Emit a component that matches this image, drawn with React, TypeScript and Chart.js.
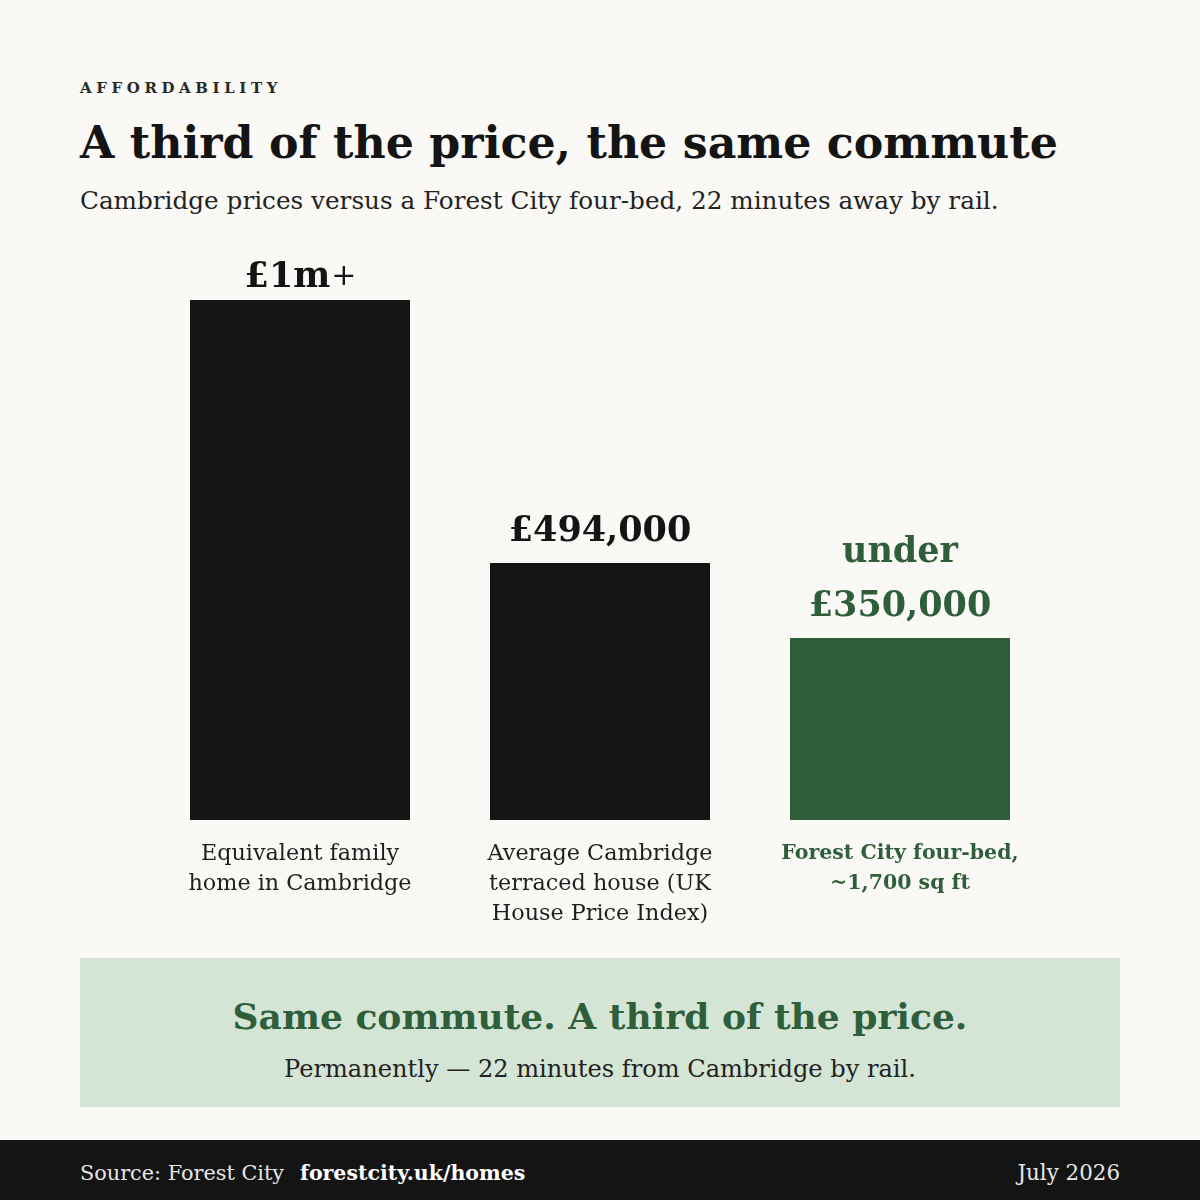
import React, { useEffect, useRef } from "react";
import { Chart, registerables } from "chart.js";

Chart.register(...registerables);

// ---- data ----
const categories: string[][] = [
  ["Equivalent family", "home in Cambridge"],
  ["Average Cambridge", "terraced house (UK", "House Price Index)"],
  ["Forest City four-bed,", "~1,700 sq ft"],
];
const prices: number[] = [1000000, 494000, 350000];
const valuePrefix: string[] = ["", "", "under"];
const valueMain: string[] = ["£1m", "£494,000", "£350,000"];
const valueSuffix: string[] = ["+", "", ""];
const yMax = 1000000;

// ---- styles ----
const SERIF = "'DejaVu Serif', serif";
const INK = "#141414";
const GREEN = "#2F5E3A";
const BG = "#FAF9F5";
const barColors = [INK, INK, GREEN];

const valueLabelPlugin = {
  id: "valueLabels",
  afterDatasetsDraw(chart: any) {
    const ctx = chart.ctx as CanvasRenderingContext2D;
    const meta = chart.getDatasetMeta(0);
    ctx.save();
    meta.data.forEach((bar: any, i: number) => {
      const color = barColors[i];
      const base = Math.max(bar.y - 22, chart.chartArea.top - 13);
      ctx.fillStyle = color;
      ctx.textBaseline = "alphabetic";
      const mainFont = `bold 35px ${SERIF}`;
      const sufFont = `normal 30px ${SERIF}`;
      ctx.font = mainFont;
      const mw = ctx.measureText(valueMain[i]).width;
      ctx.font = sufFont;
      const sw = valueSuffix[i] ? ctx.measureText(valueSuffix[i]).width : 0;
      const startX = bar.x - (mw + sw) / 2;
      ctx.textAlign = "left";
      ctx.font = mainFont;
      ctx.fillText(valueMain[i], startX, base);
      if (valueSuffix[i]) {
        ctx.font = sufFont;
        ctx.fillText(valueSuffix[i], startX + mw + 1, base - 2);
      }
      if (valuePrefix[i]) {
        ctx.font = mainFont;
        ctx.textAlign = "center";
        ctx.fillText(valuePrefix[i], bar.x, base - 54);
      }
    });
    ctx.restore();
  },
};

function BarChart() {
  const ref = useRef<HTMLCanvasElement | null>(null);
  useEffect(() => {
    if (!ref.current) return;
    const chart = new Chart(ref.current, {
      type: "bar",
      data: {
        labels: categories as any,
        datasets: [
          {
            data: prices,
            backgroundColor: barColors,
            borderWidth: 0,
            categoryPercentage: 1,
            barPercentage: 220 / 300,
          },
        ],
      },
      options: {
        responsive: false,
        animation: false,
        devicePixelRatio: 1,
        layout: { padding: { top: 70, left: 150, right: 150, bottom: 0 } },
        plugins: { legend: { display: false }, tooltip: { enabled: false } },
        scales: {
          x: {
            grid: { display: false, drawTicks: false },
            border: { display: false },
            ticks: {
              padding: 19,
              maxRotation: 0,
              autoSkip: false,
              color: (c: any) => (c.index === 2 ? GREEN : "#1f1f1f"),
              font: (c: any) =>
                c.index === 2
                  ? { family: SERIF, size: 20.5, weight: "bold", lineHeight: 30 / 20.5 }
                  : { family: SERIF, size: 22.3, weight: "normal", lineHeight: 30 / 22.3 },
            },
            afterFit: (s: any) => {
              s.height = 120;
            },
          },
          y: { display: false, min: 0, max: yMax },
        },
      },
      plugins: [valueLabelPlugin],
    } as any);
    return () => chart.destroy();
  }, []);
  return (
    <canvas
      ref={ref}
      width={1200}
      height={710}
      style={{ position: "absolute", left: 0, top: 230, width: 1200, height: 710 }}
    />
  );
}

export default function App() {
  const abs = (o: React.CSSProperties): React.CSSProperties => ({
    position: "absolute",
    whiteSpace: "nowrap",
    fontFamily: SERIF,
    ...o,
  });
  return (
    <div
      style={{
        position: "absolute",
        left: 0,
        top: 0,
        width: 1200,
        height: 1200,
        background: BG,
        overflow: "hidden",
      }}
    >
      <div
        style={abs({
          left: 80,
          top: 76,
          fontSize: 15,
          lineHeight: "24px",
          letterSpacing: 4.6,
          fontWeight: "bold",
          color: "#2a2a2a",
        })}
      >
        AFFORDABILITY
      </div>
      <div
        style={abs({
          left: 80,
          top: 112,
          fontSize: 44.3,
          lineHeight: "60px",
          fontWeight: "bold",
          color: INK,
        })}
      >
        A third of the price, the same commute
      </div>
      <div
        style={abs({ left: 80, top: 185, fontSize: 24.7, lineHeight: "32px", color: "#222" })}
      >
        Cambridge prices versus a Forest City four-bed, 22 minutes away by rail.
      </div>

      <BarChart />

      <div
        style={{
          position: "absolute",
          left: 80,
          top: 958,
          width: 1040,
          height: 149,
          background: "#D5E5D5",
        }}
      >
        <div
          style={abs({
            left: 0,
            width: 1040,
            textAlign: "center",
            top: 32,
            fontSize: 36,
            lineHeight: "52px",
            fontWeight: "bold",
            color: GREEN,
          })}
        >
          Same commute. A third of the price.
        </div>
        <div
          style={abs({
            left: 0,
            width: 1040,
            textAlign: "center",
            top: 95,
            fontSize: 24.1,
            lineHeight: "32px",
            color: "#222",
          })}
        >
          Permanently — 22 minutes from Cambridge by rail.
        </div>
      </div>

      <div
        style={{
          position: "absolute",
          left: 0,
          top: 1140,
          width: 1200,
          height: 60,
          background: INK,
        }}
      >
        <div style={abs({ left: 80, top: 18, fontSize: 20.8, lineHeight: "30px", color: "#e6e6e6" })}>
          Source: Forest City
          <span style={{ fontWeight: "bold", color: "#ffffff", marginLeft: 16, fontSize: 20.5 }}>
            forestcity.uk/homes
          </span>
        </div>
        <div
          style={abs({
            right: 80,
            top: 18,
            fontSize: 21.4,
            lineHeight: "30px",
            color: "#e6e6e6",
            textAlign: "right",
          })}
        >
          July 2026
        </div>
      </div>
    </div>
  );
}
